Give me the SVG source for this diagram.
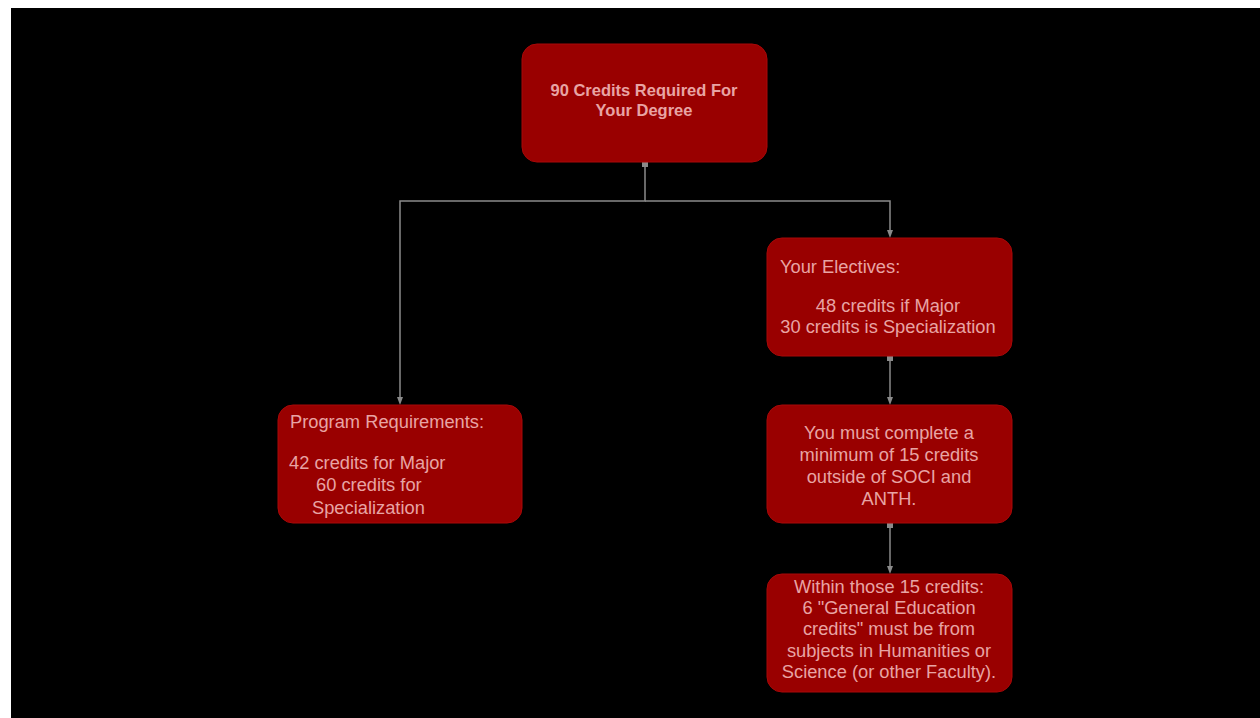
<svg xmlns="http://www.w3.org/2000/svg" width="1260" height="718" viewBox="0 0 1260 718">
<style>
.node{fill:#990000;stroke:#a80808;stroke-width:1}
.t{font-family:"Liberation Sans",Arial,sans-serif;font-size:18.3px;fill:#e8a4a4}
.b{font-weight:bold;font-size:16.5px}
.c{text-anchor:middle}
.con{fill:none;stroke:#8a8a8a;stroke-width:1.5}
</style>
<defs>
<marker id="arr" markerWidth="8" markerHeight="8" refX="4" refY="4" orient="auto" markerUnits="userSpaceOnUse">
<path d="M0,1 L8,4 L0,7 z" fill="#8a8a8a"/>
</marker>
<marker id="dot" markerWidth="6" markerHeight="6" refX="3" refY="3" markerUnits="userSpaceOnUse">
<rect x="0" y="0" width="6" height="6" fill="#8a8a8a"/>
</marker>
</defs>
<rect x="0" y="0" width="1260" height="718" fill="#ffffff"/>
<rect x="11" y="8" width="1249" height="710" fill="#000000"/>
<g id="connectors">
<path class="con" d="M645,164 V201 H400 V401" marker-start="url(#dot)" marker-end="url(#arr)"/>
<path class="con" d="M645,201 H890 V234" marker-end="url(#arr)"/>
<path class="con" d="M890,358 V401" marker-start="url(#dot)" marker-end="url(#arr)"/>
<path class="con" d="M890,525 V570" marker-start="url(#dot)" marker-end="url(#arr)"/>
</g>
<g id="n-degree">
<rect class="node" x="522" y="44" width="245" height="118" rx="15"/>
<text class="t b c" x="644" y="96">90 Credits Required For</text>
<text class="t b c" x="644" y="116">Your Degree</text>
</g>
<g id="n-electives">
<rect class="node" x="767" y="238" width="245" height="118" rx="15"/>
<text class="t" x="780" y="273">Your Electives:</text>
<text class="t c" x="888" y="312">48 credits if Major</text>
<text class="t c" x="888" y="333">30 credits is Specialization</text>
</g>
<g id="n-program">
<rect class="node" x="278" y="405" width="244" height="118" rx="15"/>
<text class="t" x="290" y="428">Program Requirements:</text>
<text class="t" x="289" y="469">42 credits for Major</text>
<text class="t" x="316" y="491">60 credits for</text>
<text class="t" x="312" y="514">Specialization</text>
</g>
<g id="n-outside">
<rect class="node" x="767" y="405" width="245" height="118" rx="15"/>
<text class="t c" x="889" y="439">You must complete a</text>
<text class="t c" x="889" y="461">minimum of 15 credits</text>
<text class="t c" x="889" y="483">outside of SOCI and</text>
<text class="t c" x="889" y="505">ANTH.</text>
</g>
<g id="n-gened">
<rect class="node" x="767" y="574" width="245" height="118" rx="15"/>
<text class="t c" x="889" y="593">Within those 15 credits:</text>
<text class="t c" x="889" y="614">6 "General Education</text>
<text class="t c" x="889" y="635">credits" must be from</text>
<text class="t c" x="889" y="657">subjects in Humanities or</text>
<text class="t c" x="889" y="678">Science (or other Faculty).</text>
</g>
</svg>
